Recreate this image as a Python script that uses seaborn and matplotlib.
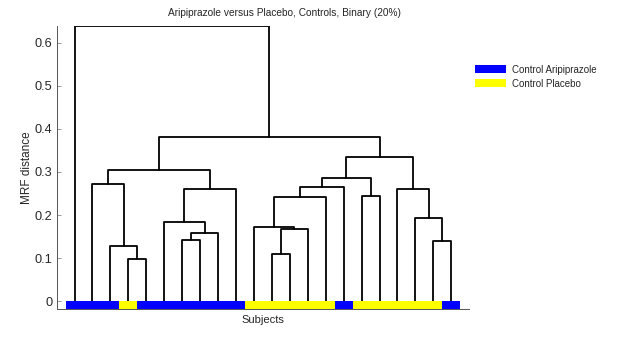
import numpy as np
import pandas as pd
import matplotlib
matplotlib.use('Agg')
import matplotlib.pyplot as plt
from matplotlib.patches import Patch
import seaborn as sns

# leaf groups, left to right in dendrogram order
groups = ['Control Aripiprazole'] * 3 + ['Control Placebo'] + ['Control Aripiprazole'] * 6 + \
         ['Control Placebo'] * 5 + ['Control Aripiprazole'] + ['Control Placebo'] * 5 + \
         ['Control Aripiprazole']
n_leaves = len(groups)

# merges: new node id = n_leaves + row index, (left child, right child, height)
merge_left = [3, 2, 1, 6, 25, 5, 27, 24, 11, 30, 10, 32, 33, 16, 34, 20, 19, 18, 36, 29, 0]
merge_right = [4, 22, 23, 7, 8, 26, 9, 28, 12, 13, 31, 14, 15, 17, 35, 21, 37, 38, 39, 40, 41]
merge_height = [0.098, 0.128, 0.273, 0.142, 0.159, 0.183, 0.260, 0.305, 0.110, 0.167, 0.172,
                0.241, 0.266, 0.244, 0.285, 0.139, 0.193, 0.260, 0.335, 0.380, 0.638]

group_colors = {'Control Aripiprazole': '#0000ff', 'Control Placebo': '#ffff00'}

# node positions
xpos = {i: i + 1.0 for i in range(n_leaves)}
ypos = {i: 0.0 for i in range(n_leaves)}
rows = []
for k, (a, b, h) in enumerate(zip(merge_left, merge_right, merge_height)):
    node = n_leaves + k
    xpos[node] = (xpos[a] + xpos[b]) / 2
    ypos[node] = h
    for x, y in [(xpos[a], ypos[a]), (xpos[a], h), (xpos[b], h), (xpos[b], ypos[b])]:
        rows.append({'seg': k, 'x': x, 'y': y})
segs = pd.DataFrame(rows)

sns.set_style('white')
plt.rcParams['font.family'] = ['Liberation Sans', 'DejaVu Sans']

fig = plt.figure(figsize=(6.29, 3.45), dpi=100)
ax = fig.add_axes([0.090, 0.104, 0.656, 0.820])

sns.lineplot(data=segs, x='x', y='y', units='seg', estimator=None, sort=False,
             color='black', lw=1.3, ax=ax)

bar_bottom = -0.018
ax.bar(np.arange(1, n_leaves + 1), -bar_bottom, bottom=bar_bottom, width=1.0,
       color=[group_colors[g] for g in groups], linewidth=0, zorder=3)

ax.set_xlim(0, n_leaves + 1)
ax.set_ylim(bar_bottom, max(merge_height))
ax.set_xticks([])
ax.set_yticks([0, 0.1, 0.2, 0.3, 0.4, 0.5, 0.6])
ax.set_yticklabels(['0', '0.1', '0.2', '0.3', '0.4', '0.5', '0.6'])
ax.tick_params(axis='y', direction='in', length=3, width=0.6, labelsize=9.2, pad=3, left=True,
               color='#888888')
for s in ['top', 'right']:
    ax.spines[s].set_visible(False)
for s in ['left', 'bottom']:
    ax.spines[s].set_color('#555555')
    ax.spines[s].set_linewidth(0.7)

ax.set_xlabel('Subjects', fontsize=8, labelpad=4)
ax.set_ylabel('MRF distance', fontsize=8.5, labelpad=1)
fig.text(0.453, 0.963, 'Aripiprazole versus Placebo, Controls, Binary (20%)',
         ha='center', va='center', fontsize=7.3)

handles = [Patch(facecolor=group_colors[g], edgecolor='none', label=g)
           for g in ['Control Aripiprazole', 'Control Placebo']]
fig.legend(handles=handles, loc='upper left', bbox_to_anchor=(0.741, 0.838), frameon=False,
           fontsize=7, handlelength=3.2, handleheight=0.85, handletextpad=0.6, labelspacing=0.4)

fig.savefig('out.png', dpi=100)
